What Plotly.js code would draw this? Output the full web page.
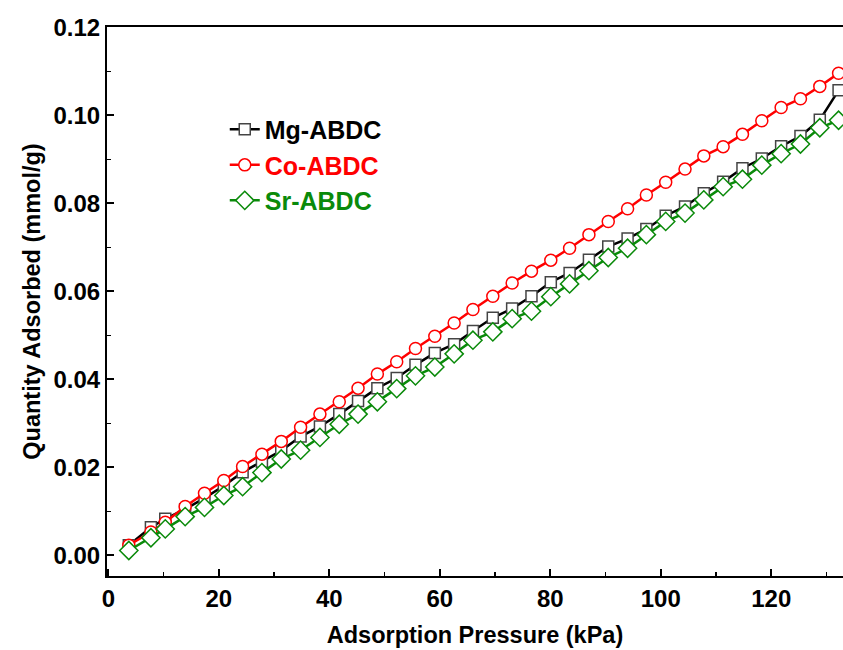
<!DOCTYPE html>
<html>
<head>
<meta charset="utf-8">
<script src="https://cdn.plot.ly/plotly-3.0.1.min.js"></script>
<style>html,body{margin:0;padding:0;background:#fff;}#chart{width:843px;height:650px;}</style>
</head>
<body>
<div id="chart"></div>
<script>
const pressure = [3.7, 7.7, 10.3, 13.9, 17.4, 20.9, 24.3, 27.8, 31.3, 34.8, 38.3, 41.8, 45.2, 48.7, 52.2, 55.6, 59.1, 62.6, 66.0, 69.6, 73.1, 76.6, 80.1, 83.5, 87.0, 90.5, 94.0, 97.4, 100.9, 104.4, 107.8, 111.3, 114.8, 118.3, 121.8, 125.3, 128.8, 132.2];
const mgABDC = [0.0023, 0.0064, 0.0083, 0.0105, 0.0130, 0.0158, 0.0189, 0.0213, 0.0238, 0.0270, 0.0293, 0.0321, 0.0351, 0.0380, 0.0403, 0.0433, 0.0460, 0.0480, 0.0510, 0.0540, 0.0561, 0.0589, 0.0621, 0.0642, 0.0672, 0.0702, 0.0720, 0.0742, 0.0772, 0.0793, 0.0823, 0.0849, 0.0880, 0.0902, 0.0930, 0.0953, 0.0990, 0.1057];
const coABDC = [0.0023, 0.0053, 0.0075, 0.0111, 0.0141, 0.0170, 0.0202, 0.0230, 0.0259, 0.0291, 0.0321, 0.0349, 0.0380, 0.0412, 0.0440, 0.0470, 0.0498, 0.0528, 0.0559, 0.0589, 0.0619, 0.0646, 0.0671, 0.0698, 0.0729, 0.0759, 0.0788, 0.0819, 0.0848, 0.0878, 0.0908, 0.0929, 0.0957, 0.0988, 0.1018, 0.1038, 0.1066, 0.1096];
const srABDC = [0.0011, 0.0040, 0.0060, 0.0088, 0.0109, 0.0136, 0.0156, 0.0188, 0.0219, 0.0239, 0.0268, 0.0298, 0.0321, 0.0349, 0.0379, 0.0408, 0.0428, 0.0458, 0.0489, 0.0508, 0.0538, 0.0555, 0.0588, 0.0617, 0.0647, 0.0677, 0.0698, 0.0729, 0.0759, 0.0778, 0.0808, 0.0838, 0.0855, 0.0887, 0.0913, 0.0935, 0.0972, 0.0989];
const seriesNames = ['Mg-ABDC', 'Co-ABDC', 'Sr-ABDC'];

const RED = '#ff0000', GREEN = '#0a8a0a', BLACK = '#000000';

const traces = [
  {x: pressure, y: mgABDC, name: '<span style="color:' + BLACK + '">' + seriesNames[0] + '</span>', legendgroup: 'a',
   mode: 'lines+markers', line: {color: BLACK, width: 2.5},
   marker: {symbol: 'square', size: 11, color: '#ffffff', line: {color: '#444444', width: 1.5}}},
  {x: pressure, y: coABDC, name: '<span style="color:' + RED + '">' + seriesNames[1] + '</span>', legendgroup: 'b',
   mode: 'lines+markers', line: {color: RED, width: 2.5},
   marker: {symbol: 'circle', size: 12, color: '#ffffff', line: {color: RED, width: 1.5}}},
  {x: pressure, y: srABDC, name: '<span style="color:' + GREEN + '">' + seriesNames[2] + '</span>', legendgroup: 'c',
   mode: 'lines+markers', line: {color: GREEN, width: 2.5},
   marker: {symbol: 'diamond', size: 14, color: '#ffffff', line: {color: GREEN, width: 1.5}}}
];

const FAM = '"Liberation Sans", Arial, sans-serif';
const tickFont = {family: FAM, size: 24, color: '#000', weight: 'bold'};
const titleFont = {family: FAM, size: 23.5, color: '#000', weight: 'bold'};
const legendFont = {family: FAM, size: 25, color: '#000', weight: 'bold'};

const layout = {
  width: 843, height: 650,
  paper_bgcolor: '#ffffff', plot_bgcolor: '#ffffff',
  margin: {l: 107, r: 0, t: 27, b: 74},
  showlegend: true,
  legend: {x: 0.16, y: 0.855, xanchor: 'left', yanchor: 'top', bgcolor: 'rgba(0,0,0,0)',
           font: legendFont, tracegroupgap: 0, traceorder: 'normal'},
  xaxis: {
    range: [-0.25, 133], showgrid: false, zeroline: false,
    showline: true, linecolor: '#000', linewidth: 2, mirror: true,
    ticks: 'inside', ticklen: 7, tickwidth: 2, tickcolor: '#000',
    dtick: 20, tick0: 0,
    minor: {ticks: 'inside', ticklen: 4, tickwidth: 1.5, tickcolor: '#000', dtick: 10, showgrid: false},
    tickfont: tickFont,
    title: {text: 'Adsorption Pressure (kPa)', font: titleFont, standoff: 16}
  },
  yaxis: {
    range: [-0.0047, 0.1201], showgrid: false, zeroline: false,
    showline: true, linecolor: '#000', linewidth: 2, mirror: false,
    ticks: 'inside', ticklen: 7, tickwidth: 2, tickcolor: '#000',
    dtick: 0.02, tick0: 0, tickformat: '.2f',
    minor: {ticks: 'inside', ticklen: 4, tickwidth: 1.5, tickcolor: '#000', dtick: 0.01, showgrid: false},
    tickfont: tickFont,
    title: {text: 'Quantity Adsorbed (mmol/g)', font: titleFont, standoff: 6}
  }
};

Plotly.newPlot('chart', traces, layout, {displayModeBar: false, staticPlot: true});
</script>
</body>
</html>
